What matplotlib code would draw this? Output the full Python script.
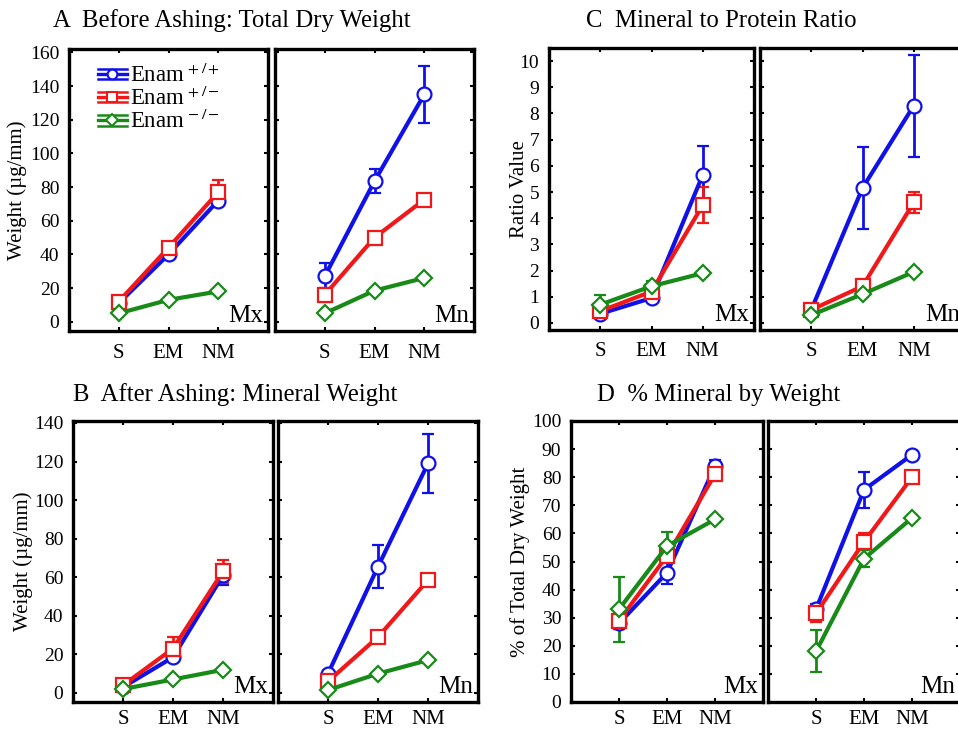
import matplotlib
matplotlib.use("Agg")
import matplotlib.pyplot as plt
from matplotlib.lines import Line2D
from matplotlib.legend_handler import HandlerBase

plt.rcParams['font.family'] = ['Liberation Serif', 'DejaVu Serif']
plt.rcParams['mathtext.fontset'] = 'stix'

stages = ["S", "EM", "NM"]
genotypes = ["Enam$^{\\,+/+}$", "Enam$^{\\,+/-}$", "Enam$^{\\,-/-}$"]
colors = ["#1010e8", "#f01818", "#188a18"]
markers = ["o", "s", "D"]

# A: total dry weight (ug/mm), rows = +/+, +/-, -/-
a_mx = [[11, 40, 72], [12, 44, 77], [5, 13, 18]]
a_mx_err = [[1, 2, 3], [1.5, 3, 7], [0.5, 1, 1]]
a_mn = [[27, 83.5, 135], [16, 50, 72.5], [5, 18.5, 26]]
a_mn_err = [[8, 7, 17], [4, 2, 2], [0.5, 1, 1]]

# B: mineral weight (ug/mm)
b_mx = [[3, 18.5, 61], [4, 23, 63], [2, 7, 12]]
b_mx_err = [[0.5, 2, 5], [1, 6, 6], [0.3, 0.5, 0.5]]
b_mn = [[10, 65.5, 119], [6, 29, 58.5], [1.5, 10, 17]]
b_mn_err = [[1, 11, 15.5], [1, 2, 1.5], [0.3, 0.5, 0.5]]

# C: mineral to protein ratio
c_mx = [[0.35, 0.95, 5.65], [0.45, 1.2, 4.5], [0.7, 1.4, 1.9]]
c_mx_err = [[0.1, 0.1, 1.1], [0.1, 0.3, 0.7], [0.35, 0.2, 0.1]]
c_mn = [[0.5, 5.15, 8.3], [0.5, 1.4, 4.6], [0.3, 1.1, 1.95]]
c_mn_err = [[0.1, 1.55, 1.95], [0.1, 0.1, 0.4], [0.05, 0.1, 0.1]]

# D: % mineral by weight
d_mx = [[28, 46, 84], [29, 52, 81], [33, 55.5, 65]]
d_mx_err = [[2, 4, 2], [3, 2, 1.5], [11.5, 5, 1]]
d_mn = [[33, 75.5, 88], [31.5, 57, 80], [18, 51, 65.5]]
d_mn_err = [[2, 6.5, 1.5], [3, 3, 1], [7.5, 3, 1]]


class ErrHandler(HandlerBase):
    # legend icon: marker on a line with bars above and below
    def create_artists(self, legend, orig_handle, xdescent, ydescent,
                       width, height, fontsize, trans):
        c = orig_handle.get_color()
        m = orig_handle.get_marker()
        x0, x1 = -xdescent, width - xdescent
        yc = height / 2 - ydescent
        dy = height * 0.32
        arts = []
        for yy, lw in [(yc + dy, 1.8), (yc, 2.4), (yc - dy, 1.8)]:
            arts.append(Line2D([x0, x1], [yy, yy], color=c, lw=lw, transform=trans))
        ms = 7 if m != "D" else 6
        arts.append(Line2D([(x0 + x1) / 2], [yc], marker=m, color=c, ms=ms,
                           mfc="white", mew=1.5, lw=0, transform=trans))
        return arts


W, H = 958, 729
fig = plt.figure(figsize=(W / 100, H / 100), dpi=100)


def make_ax(l, r, t, b):
    return fig.add_axes([l / W, 1 - b / H, (r - l) / W, (b - t) / H])


def draw(ax, means, errs, ylim, yticks, tag, show_y, xpad=9):
    for i in range(3):
        ms = 10 if markers[i] != "D" else 8.5
        ax.errorbar([1, 2, 3], means[i], yerr=errs[i], color=colors[i],
                    marker=markers[i], ms=ms, mfc="white", mew=1.6, lw=3,
                    elinewidth=2, capsize=4, capthick=1.8)
    ax.set_xlim(0, 4)
    ax.set_ylim(*ylim)
    ax.set_xticks([1, 2, 3])
    ax.set_xticklabels(stages)
    ax.set_yticks(yticks)
    ax.tick_params(direction="in", length=3, width=1.5, top=True, right=True,
                   labelsize=14)
    ax.tick_params(axis="y", pad=7)
    ax.tick_params(axis="x", pad=xpad, labelsize=15)
    if not show_y:
        ax.set_yticklabels([])
    for s in ax.spines.values():
        s.set_linewidth(2.4)
    ax.text(0.975, 0.015, tag, transform=ax.transAxes, ha="right", va="bottom",
            fontsize=18)


# panel A
ax = make_ax(69, 268, 49, 331)
draw(ax, a_mx, a_mx_err, (-5.5, 162), range(0, 161, 20), "Mx", True)
ax.set_ylabel("Weight (µg/mm)", fontsize=15)
ax.yaxis.set_label_coords(-0.21, 0.5)
handles = [Line2D([], [], color=colors[i], marker=markers[i]) for i in range(3)]
ax.legend(handles, genotypes, handler_map={Line2D: ErrHandler()},
          loc="upper left", bbox_to_anchor=(0.1, 0.98), frameon=False,
          fontsize=16.5, handlelength=1.25, handletextpad=0.15, labelspacing=0.0,
          borderaxespad=0)
ax = make_ax(275, 474, 49, 331)
draw(ax, a_mn, a_mn_err, (-5.5, 162), range(0, 161, 20), "Mn", False)
fig.text(53 / W, 1 - 21 / H, "A  Before Ashing: Total Dry Weight", fontsize=17.8,
         va="center", ha="left")

# panel C
ax = make_ax(549, 754, 48, 330)
draw(ax, c_mx, c_mx_err, (-0.27, 10.5), range(0, 11), "Mx", True)
ax.set_ylabel("Ratio Value", fontsize=15)
ax.yaxis.set_label_coords(-0.10, 0.5)
ax = make_ax(760, 965, 48, 330)
draw(ax, c_mn, c_mn_err, (-0.27, 10.5), range(0, 11), "Mn", False)
fig.text(586 / W, 1 - 21 / H, "C  Mineral to Protein Ratio", fontsize=17.8,
         va="center", ha="left")

# panel B
ax = make_ax(73, 273, 421, 702)
draw(ax, b_mx, b_mx_err, (-4.7, 141), range(0, 141, 20), "Mx", True, xpad=6)
ax.set_ylabel("Weight (µg/mm)", fontsize=15)
ax.yaxis.set_label_coords(-0.2, 0.5)
ax = make_ax(278, 478, 421, 702)
draw(ax, b_mn, b_mn_err, (-4.7, 141), range(0, 141, 20), "Mn", False, xpad=6)
fig.text(73 / W, 1 - 395 / H, "B  After Ashing: Mineral Weight", fontsize=17.8,
         va="center", ha="left")

# panel D
ax = make_ax(571, 763, 421, 702)
draw(ax, d_mx, d_mx_err, (0, 100), range(0, 101, 10), "Mx", True, xpad=6)
ax.set_ylabel("% of Total Dry Weight", fontsize=15)
ax.yaxis.set_label_coords(-0.214, 0.5)
ax = make_ax(768, 960, 421, 702)
draw(ax, d_mn, d_mn_err, (0, 100), range(0, 101, 10), "Mn", False, xpad=6)
fig.text(597 / W, 1 - 395 / H, "D  % Mineral by Weight", fontsize=17.8,
         va="center", ha="left")

fig.savefig("out.png", dpi=100)
